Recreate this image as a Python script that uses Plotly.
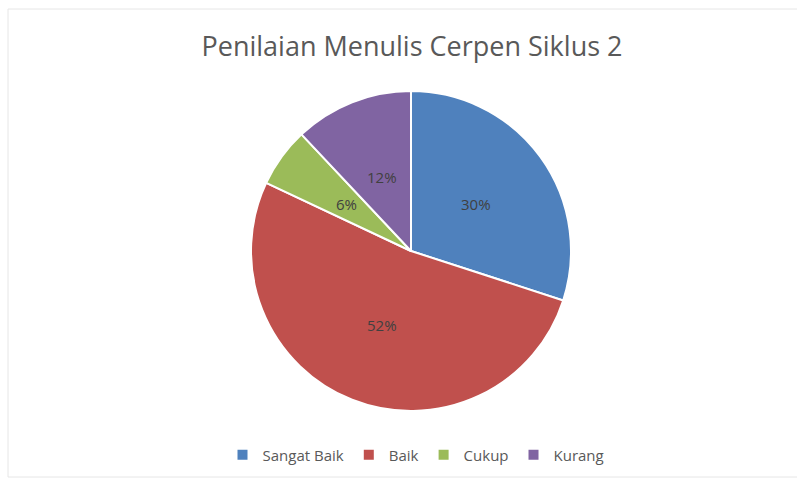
import math
import plotly.graph_objects as go

labels = ["Sangat Baik", "Baik", "Cukup", "Kurang"]
values = [30, 52, 6, 12]
colors = ["#4F81BD", "#C0504D", "#9BBB59", "#8064A2"]
title = "Penilaian Menulis Cerpen Siklus 2"

W, H = 797, 481
cx, cy, r = 411, 251, 160

fig = go.Figure(go.Pie(
    labels=labels, values=values, sort=False, direction="clockwise", rotation=0,
    marker=dict(colors=colors, line=dict(color="white", width=2)),
    textinfo="none",
    domain=dict(x=[(cx - r) / W, (cx + r) / W], y=[1 - (cy + r) / H, 1 - (cy - r) / H]),
    hoverinfo="label+percent",
))

# data labels at half radius along each slice bisector (Excel style)
total = sum(values)
annotations = []
cum = 0
for v in values:
    mid = (cum + v / 2) / total * 2 * math.pi
    cum += v
    px = cx + 0.5 * r * math.sin(mid)
    py = cy - 0.5 * r * math.cos(mid)
    annotations.append(dict(
        x=px / W, y=1 - py / H, xref="paper", yref="paper", showarrow=False,
        text=f"{round(v / total * 100)}%",
        font=dict(family="Open Sans, Liberation Sans", size=15, color="#404040"),
        xanchor="center", yanchor="middle"))

fig.update_layout(
    width=W, height=H, margin=dict(l=0, r=0, t=0, b=0),
    paper_bgcolor="white", plot_bgcolor="white",
    title=dict(text=title, x=412 / W, xanchor="center", y=1 - 47 / H, yanchor="middle",
               font=dict(family="Open Sans, Liberation Sans", size=27, color="#595959")),
    legend=dict(orientation="h", x=416 / W, xanchor="center", y=1 - 455 / H, yanchor="middle",
                font=dict(family="Open Sans, Liberation Sans", size=15, color="#595959"),
                itemwidth=30, traceorder="normal"),
    annotations=annotations,
    shapes=[dict(type="rect", xref="paper", yref="paper", x0=8 / W, x1=1.01,
                 y0=1 - 477 / H, y1=1 - 9 / H, line=dict(color="#E6E6E6", width=1))],
)

fig.write_html("out.html")
